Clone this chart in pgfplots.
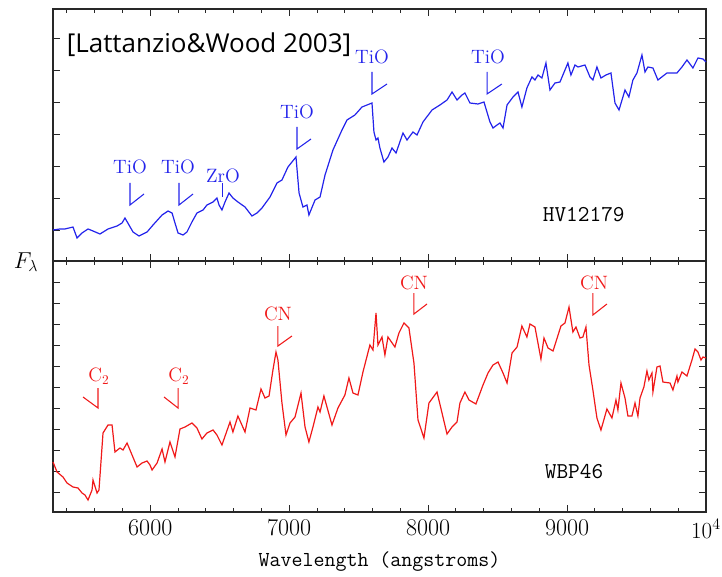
\documentclass[border=0pt]{standalone}
\usepackage{fontspec}
\usepackage{pgfplots}
\pgfplotsset{compat=1.18}
\newfontfamily\titlefont{Open Sans}
\definecolor{specblue}{RGB}{35,35,235}
\definecolor{specred}{RGB}{240,25,25}
\definecolor{framegray}{RGB}{40,40,40}

\pgfplotsset{
  specaxis/.style={
    scale only axis,
    width=489.75pt,
    xmin=5300, xmax=10000,
    scaled x ticks=false, scaled y ticks=false,
    xtick={6000,7000,8000,9000,10000},
    minor xtick={5400,5600,5800,6200,6400,6600,6800,7200,7400,7600,7800,8200,8400,8600,8800,9200,9400,9600,9800},
    tick align=inside,
    xtick pos=both, ytick pos=both,
    major tick length=5.2pt,
    minor tick length=3pt,
    yticklabels={},
    axis line style={framegray, line width=0.9pt},
    every tick/.style={framegray, line width=0.7pt},
    clip=false,
  }
}

\begin{document}
\begin{tikzpicture}[x=0.75pt,y=0.75pt]
\path[use as bounding box] (0,0) rectangle (722,576);

% ---------------- top panel: HV12179 ----------------
\begin{axis}[specaxis,
  at={(39.75pt,236.25pt)}, anchor=south west,
  height=189pt,
  ymin=0, ymax=252,
  ytick={31,63,95,127,159,191,223},
  xticklabels={},
]
\addplot[specblue, line width=0.9pt] coordinates {
(5300,31)(5350,32)(5386,32)(5444,34)(5473,23)(5509,28)(5552,32)(5588,30)(5638,27)(5696,32)
(5761,35)(5797,38)(5818,43)(5847,36)(5876,29)(5919,25)(5977,29)(6020,36)(6085,46)(6128,50)
(6157,48)(6178,38)(6200,28)(6236,26)(6264,29)(6300,39)(6336,48)(6380,51)(6408,56)(6452,59)
(6480,63)(6495,56)(6516,51)(6538,59)(6567,68)(6595,63)(6631,59)(6682,54)(6732,45)(6768,48)
(6804,53)(6862,64)(6912,78)(6948,81)(6991,94)(7049,104)(7071,68)(7099,54)(7128,56)(7142,46)
(7186,61)(7222,64)(7258,86)(7315,111)(7380,131)(7416,141)(7473,146)(7524,154)(7596,158)(7610,129)
(7625,121)(7639,123)(7653,113)(7682,99)(7711,104)(7740,113)(7769,108)(7819,128)(7848,121)(7891,129)
(7920,126)(7963,139)(8028,151)(8085,156)(8136,161)(8172,169)(8208,161)(8244,166)(8265,168)(8301,158)
(8359,157)(8402,159)(8445,139)(8467,133)(8496,136)(8517,138)(8539,133)(8568,156)(8611,164)(8647,169)
(8675,154)(8711,173)(8747,184)(8769,181)(8791,186)(8819,183)(8848,198)(8877,171)(8913,178)(8949,179)
(9006,198)(9028,186)(9057,196)(9079,194)(9129,196)(9165,184)(9186,181)(9215,194)(9244,183)(9280,186)
(9316,188)(9345,158)(9374,151)(9417,171)(9445,164)(9474,181)(9503,188)(9539,206)(9561,189)(9582,194)
(9618,193)(9654,181)(9719,188)(9755,188)(9791,188)(9827,194)(9863,201)(9906,193)(9942,203)(9978,202)
(10000,199)
};
% annotations
\begin{scope}[specblue, line width=0.8pt]
\draw (axis cs:5854,78) -- (axis cs:5854,56) -- (axis cs:5955,67);
\draw (axis cs:6207,78) -- (axis cs:6207,56) -- (axis cs:6308,67);
\draw (axis cs:6523,78) -- (axis cs:6523,64);
\draw (axis cs:7056,134) -- (axis cs:7056,112) -- (axis cs:7157,122);
\draw (axis cs:7596,189) -- (axis cs:7596,167) -- (axis cs:7704,177);
\draw (axis cs:8424,189) -- (axis cs:8424,167) -- (axis cs:8531,177);
\end{scope}
\begin{scope}[every node/.style={text=specblue, font=\fontsize{14.5}{14.5}\selectfont, inner sep=0pt}]
\node at (axis cs:5854,94) {TiO};
\node at (axis cs:6200,94) {TiO};
\node at (axis cs:6523,85) {ZrO};
\node at (axis cs:7056,149) {TiO};
\node at (axis cs:7596,204) {TiO};
\node at (axis cs:8431,204) {TiO};
\end{scope}
\node[font=\ttfamily\fontsize{17}{17}\selectfont, inner sep=0pt] at (axis cs:9120,46) {HV12179};
\end{axis}

% ---------------- bottom panel: WBP46 ----------------
\begin{axis}[specaxis,
  at={(39.75pt,48pt)}, anchor=south west,
  height=188.25pt,
  ymin=0, ymax=251,
  ytick={20,41,62,83,104,125,146,167,188,209,230},
  xticklabels={6000,7000,8000,9000,$10^4$},
  xticklabel style={font=\fontsize{18}{18}\selectfont, yshift=-2pt},
  xlabel={Wavelength (angstroms)},
  xlabel style={font=\ttfamily\fontsize{16}{16}\selectfont, at={(axis description cs:0.5,0)}, anchor=center, yshift=-37.5pt},
]
\addplot[specred, line width=0.9pt] coordinates {
(5300,50)(5329,40)(5372,35)(5401,29)(5444,25)(5480,24)(5509,19)(5530,17)(5552,12)(5581,22)
(5588,32)(5617,19)(5631,22)(5660,79)(5696,87)(5725,87)(5746,60)(5782,64)(5804,62)(5833,69)
(5869,57)(5905,45)(5941,49)(5977,51)(5998,47)(6013,42)(6049,49)(6085,63)(6106,50)(6142,70)
(6178,55)(6214,83)(6250,85)(6300,89)(6336,84)(6372,73)(6408,79)(6452,82)(6480,77)(6516,67)
(6574,90)(6595,80)(6631,96)(6682,80)(6718,104)(6761,102)(6797,123)(6826,114)(6855,116)(6883,142)
(6905,160)(6919,152)(6948,109)(6977,77)(7006,89)(7042,95)(7085,119)(7114,85)(7142,70)(7171,85)
(7207,105)(7222,100)(7250,116)(7308,87)(7351,104)(7401,117)(7430,134)(7459,119)(7495,117)(7531,140)
(7581,167)(7603,162)(7625,199)(7639,167)(7668,175)(7689,157)(7711,175)(7761,165)(7790,179)(7826,189)
(7862,184)(7898,149)(7927,92)(7970,74)(8006,109)(8064,120)(8100,99)(8136,78)(8172,85)(8208,90)
(8229,109)(8265,120)(8294,112)(8344,108)(8395,127)(8431,139)(8467,147)(8503,150)(8539,139)(8568,129)
(8604,159)(8640,165)(8675,186)(8711,175)(8733,188)(8769,185)(8812,153)(8834,174)(8863,164)(8899,161)
(8956,186)(8985,189)(9014,205)(9042,180)(9064,185)(9093,174)(9114,175)(9136,185)(9158,147)(9186,122)
(9215,94)(9244,82)(9287,103)(9323,94)(9352,112)(9366,102)(9388,129)(9417,114)(9438,96)(9467,96)
(9489,109)(9510,96)(9525,114)(9553,125)(9575,141)(9589,132)(9611,139)(9618,120)(9647,145)(9669,146)
(9690,130)(9741,129)(9762,122)(9791,136)(9798,130)(9827,140)(9863,136)(9899,152)(9921,163)(9942,160)
(9964,152)(9978,155)(10000,154)
};
\begin{scope}[specred, line width=0.8pt]
\draw (axis cs:5516,115) -- (axis cs:5624,104) -- (axis cs:5624,124);
\draw (axis cs:6099,115) -- (axis cs:6200,104) -- (axis cs:6200,124);
\draw (axis cs:6919,186) -- (axis cs:6919,166) -- (axis cs:7020,176);
\draw (axis cs:7898,219) -- (axis cs:7898,198) -- (axis cs:7992,208);
\draw (axis cs:9186,219) -- (axis cs:9186,197) -- (axis cs:9287,208);
\end{scope}
\begin{scope}[every node/.style={text=specred, font=\fontsize{14.5}{14.5}\selectfont, inner sep=0pt}]
\node at (axis cs:5630,136) {C$_2$};
\node at (axis cs:6206,136) {C$_2$};
\node at (axis cs:6919,198) {CN};
\node at (axis cs:7898,229) {CN};
\node at (axis cs:9194,229) {CN};
\end{scope}
\node[font=\ttfamily\fontsize{17}{17}\selectfont, inner sep=0pt] at (axis cs:9050,40) {WBP46};
\end{axis}

% y label and title
\node[font=\fontsize{18}{18}\selectfont, inner sep=0pt] at (26,314) {$F_\lambda$};
\node[font=\titlefont\fontsize{19.5}{19.5}\selectfont, inner sep=0pt] at (209,531) {[Lattanzio\&Wood 2003]};
\end{tikzpicture}
\end{document}
